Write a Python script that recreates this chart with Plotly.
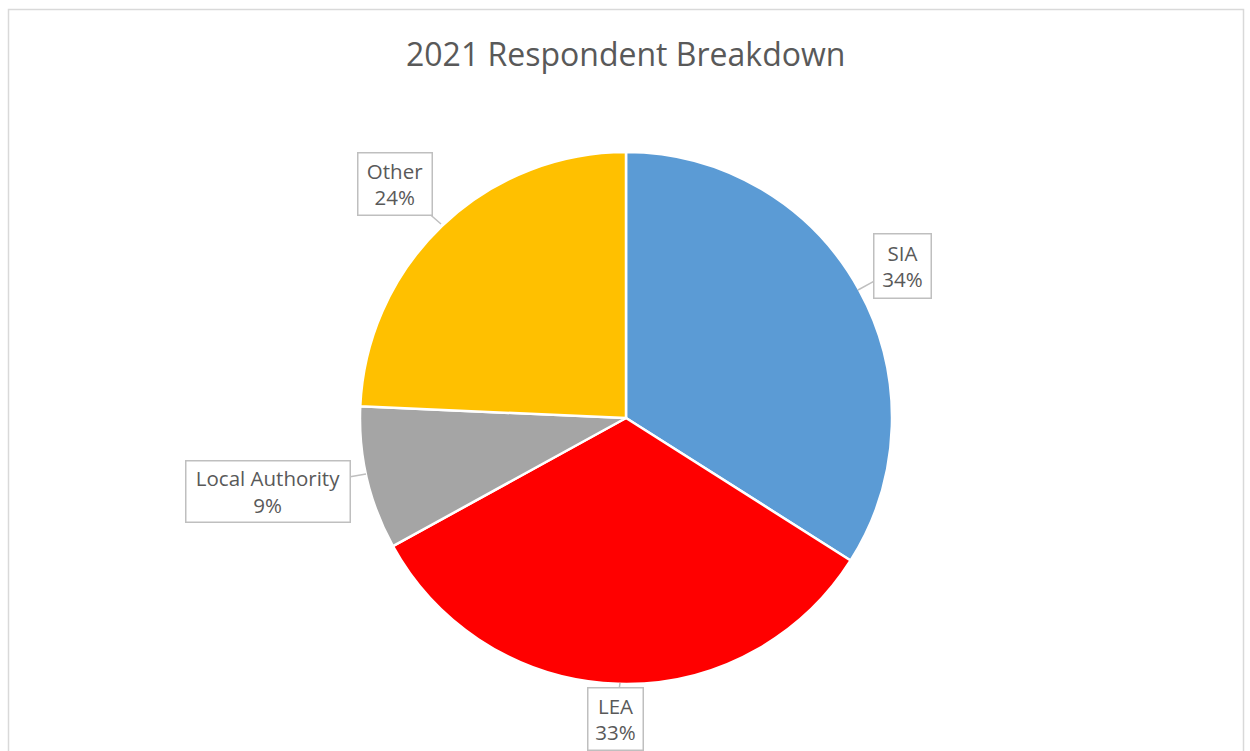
import plotly.graph_objects as go

categories = ["SIA", "LEA", "Local Authority", "Other"]
values = [34.0, 33.0, 8.7, 24.3]
colors = ["#5B9BD5", "#FF0000", "#A5A5A5", "#FFC000"]

W, H = 1250, 751
cx, cy, r = 626, 418, 266

fig = go.Figure(go.Pie(
    labels=categories, values=values, sort=False, direction="clockwise",
    rotation=0, textinfo="none", hoverinfo="label+percent",
    marker=dict(colors=colors, line=dict(color="white", width=2.5)),
    domain=dict(x=[(cx - r) / W, (cx + r) / W], y=[1 - (cy + r) / H, 1 - (cy - r) / H]),
    showlegend=False,
))

# label boxes: (box center px, box size px, arrow tip px)
label_pos = {
    "SIA": ((902, 266), (59, 66), (858, 290)),
    "LEA": ((615, 719), (57, 64), (620, 683)),
    "Local Authority": ((268, 491), (166, 63), (366, 474)),
    "Other": ((395, 184), (76, 64), (441, 224)),
}
total = sum(values)
anns = []
for c, v in zip(categories, values):
    (bx, by), (bw, bh), (tx, ty) = label_pos[c]
    anns.append(dict(
        x=tx / W, y=1 - ty / H, xref="paper", yref="paper",
        ax=bx - tx, ay=by - ty, axref="pixel", ayref="pixel",
        text=f"{c}<br>{round(v / total * 100)}%",
        width=bw - 6, height=bh - 6,
        showarrow=True, arrowhead=0, arrowwidth=1.5, arrowcolor="#BFBFBF",
        bordercolor="#BFBFBF", borderwidth=1.5, borderpad=1.5, bgcolor="white",
        font=dict(family="Open Sans", size=20.5, color="#595959"),
        align="center", valign="middle",
    ))

anns.append(dict(
    x=0.5, y=1 - 54 / H, xref="paper", yref="paper", showarrow=False,
    text="2021 Respondent Breakdown",
    font=dict(family="Open Sans", size=32, color="#595959"),
    xanchor="center", yanchor="middle",
))

fig.update_layout(
    width=W, height=H, margin=dict(l=0, r=0, t=0, b=0),
    paper_bgcolor="white", plot_bgcolor="white",
    annotations=anns,
    shapes=[dict(type="rect", xref="paper", yref="paper",
                 x0=8.5 / W, x1=1243.5 / W, y0=-0.05, y1=1 - 9.5 / H,
                 line=dict(color="#D9D9D9", width=1.5), layer="below")],
)

fig.write_html("out.html")
